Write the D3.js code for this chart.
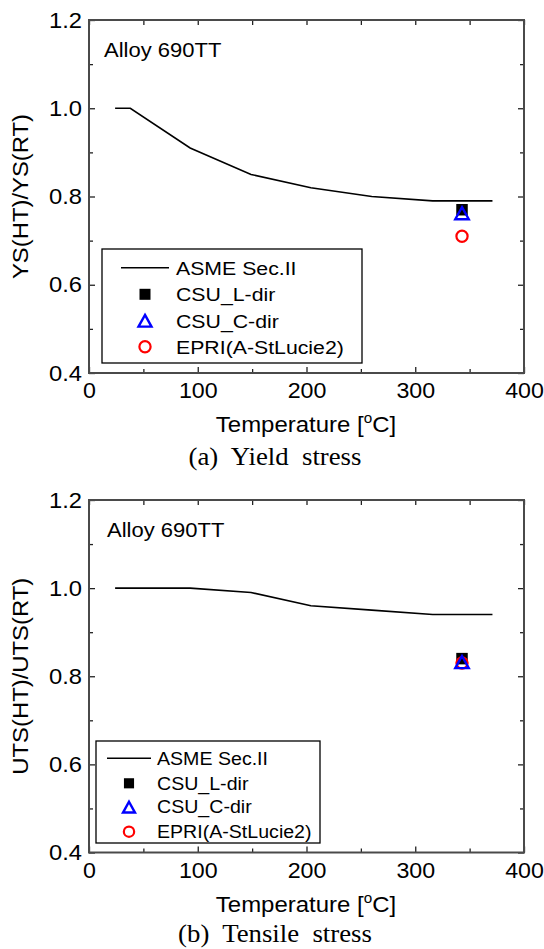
<!DOCTYPE html>
<html><head><meta charset="utf-8">
<script src="https://cdn.jsdelivr.net/npm/d3@7"></script>
<style>
html,body{margin:0;padding:0;background:#fff;}
svg{display:block;}
text{font-family:"Liberation Sans",Arial,sans-serif;fill:#000;}
.serif{font-family:"Liberation Serif","Times New Roman",serif;}
</style></head>
<body>
<svg id="c" width="544" height="949"></svg>
<script>
// ---- data ----
const xTickValues = [0, 100, 200, 300, 400];
const xMinorValues = [50, 150, 250, 350];
const yTickValues = [0.4, 0.6, 0.8, 1.0, 1.2];
const yMinorValues = [0.5, 0.7, 0.9, 1.1];
const asmeTemp = [24, 38, 93, 149, 204, 260, 316, 371];
const ysAsme = [1.0, 1.0, 0.91, 0.85, 0.82, 0.80, 0.79, 0.79];
const utsAsme = [1.0, 1.0, 1.0, 0.99, 0.96, 0.95, 0.94, 0.94];
const testTemp = [343];
const ysCsuL = [0.77];
const ysCsuC = [0.76];
const ysEpri = [0.71];
const utsCsuL = [0.84];
const utsCsuC = [0.83];
const utsEpri = [0.83];
const legendLabels = ["ASME Sec.II", "CSU_L-dir", "CSU_C-dir", "EPRI(A-StLucie2)"];

const svg = d3.select("#c");
const SX = 1.08; // horizontal stretch of tick text in the reference

function txt(g, x, y, s, size, anchor, sx, cls) {
  const t = g.append("text")
    .attr("transform", `translate(${x},${y}) scale(${sx||SX},1)`)
    .attr("font-size", size)
    .attr("text-anchor", anchor || "start")
    .text(s);
  if (cls) t.attr("class", cls);
  return t;
}

function panel(cfg) {
  const g = svg.append("g");
  const x = d3.scaleLinear().domain([0, 400]).range([89, 524]);
  const y = d3.scaleLinear().domain([0.4, 1.2]).range([cfg.bottom, cfg.top]);

  const styleAxis = (sel) => {
    sel.select(".domain").remove();
    sel.selectAll(".tick line").attr("stroke", "#222").attr("stroke-width", 1.3);
  };
  const bx = g.append("g").attr("transform", `translate(0,${cfg.bottom})`)
    .call(d3.axisBottom(x).tickValues(xTickValues).tickSizeInner(-6).tickSizeOuter(0).tickFormat(d3.format("d")));
  styleAxis(bx);
  bx.selectAll(".tick text").attr("font-size", 21.5).attr("font-family", "Liberation Sans, Arial, sans-serif")
    .attr("fill", "#000").attr("dy", "0.71em").attr("y", 10).attr("x", 0)
    .attr("transform", `scale(${SX},1)`);
  const bxm = g.append("g").attr("transform", `translate(0,${cfg.bottom})`)
    .call(d3.axisBottom(x).tickValues(xMinorValues).tickSizeInner(-4).tickSizeOuter(0).tickFormat(""));
  styleAxis(bxm);
  const tx = g.append("g").attr("transform", `translate(0,${cfg.top})`)
    .call(d3.axisTop(x).tickValues(xTickValues.concat(xMinorValues)).tickSizeInner(-5).tickSizeOuter(0).tickFormat(""));
  styleAxis(tx);
  const ly = g.append("g").attr("transform", `translate(89,0)`)
    .call(d3.axisLeft(y).tickValues(yTickValues).tickSizeInner(-6).tickSizeOuter(0).tickFormat(d3.format(".1f")));
  styleAxis(ly);
  ly.selectAll(".tick text").attr("font-size", 22).attr("font-family", "Liberation Sans, Arial, sans-serif")
    .attr("fill", "#000").attr("x", -7/SX).attr("transform", `scale(${SX},1)`);
  const lym = g.append("g").attr("transform", `translate(89,0)`)
    .call(d3.axisLeft(y).tickValues(yMinorValues).tickSizeInner(-4).tickSizeOuter(0).tickFormat(""));
  styleAxis(lym);
  const ry = g.append("g").attr("transform", `translate(524,0)`)
    .call(d3.axisRight(y).tickValues(yTickValues.concat(yMinorValues)).tickSizeInner(-6).tickSizeOuter(0).tickFormat(""));
  styleAxis(ry);
  ry.selectAll(".tick").filter(d => yMinorValues.includes(d)).select("line").attr("x2", -4);

  // frame
  g.append("rect").attr("x", 89).attr("y", cfg.top).attr("width", 524 - 89).attr("height", cfg.bottom - cfg.top)
    .attr("fill", "none").attr("stroke", "#4a4a4a").attr("stroke-width", 2);

  // ASME line
  const line = d3.line().x((d, i) => x(asmeTemp[i])).y(d => y(d));
  g.append("path").datum(cfg.asme).attr("d", line).attr("fill", "none")
    .attr("stroke", "#000").attr("stroke-width", 1.6);

  // markers
  const drawSquare = (gg, cx, cy, s) => gg.append("rect").attr("x", cx - s/2).attr("y", cy - s/2)
    .attr("width", s).attr("height", s).attr("fill", "#000");
  const drawTri = (gg, cx, cy, s) => gg.append("path")
    .attr("d", `M${cx},${cy - s*0.52} L${cx + s*0.5},${cy + s*0.38} L${cx - s*0.5},${cy + s*0.38} Z`)
    .attr("fill", "none").attr("stroke", "#0000ff").attr("stroke-width", 2.4).attr("stroke-linejoin", "miter");
  const drawCirc = (gg, cx, cy, r) => gg.append("circle").attr("cx", cx).attr("cy", cy).attr("r", r)
    .attr("fill", "none").attr("stroke", "#ff0000").attr("stroke-width", 2.2);

  testTemp.forEach((t, i) => {
    drawSquare(g, x(t), y(cfg.csuL[i]), 11.5);
    drawCirc(g, x(t), y(cfg.epri[i]), 5.6);
    drawTri(g, x(t), y(cfg.csuC[i]), 13.5);
  });

  // Alloy label
  txt(g, cfg.alloyX, cfg.top + 37, "Alloy 690TT", 20, "start", 1.1);

  // y title
  g.append("text").attr("transform", `translate(28,${(cfg.top + cfg.bottom) / 2}) rotate(-90) scale(1.06,1)`)
    .attr("font-size", 22.5).attr("text-anchor", "middle").text(cfg.ytitle);

  // x title
  const xt = g.append("text").attr("transform", `translate(306,${cfg.bottom + 59}) scale(1.09,1)`)
    .attr("font-size", 22).attr("text-anchor", "middle");
  xt.append("tspan").text("Temperature [");
  xt.append("tspan").attr("font-size", 14).attr("dy", -9).text("o");
  xt.append("tspan").attr("dy", 9).text("C]");

  // caption
  g.append("text").attr("class", "serif").attr("transform", `translate(275,${cfg.capY}) scale(1.05,1)`)
    .attr("font-size", 25.5).attr("text-anchor", "middle").style("white-space", "pre")
    .text(cfg.caption);

  // legend
  const L = cfg.legend;
  const lg = g.append("g");
  lg.append("rect").attr("x", L.x0).attr("y", L.y0).attr("width", L.x1 - L.x0).attr("height", L.y1 - L.y0)
    .attr("fill", "#fff").attr("stroke", "#000").attr("stroke-width", 1.3);
  lg.append("line").attr("x1", L.lx0).attr("x2", L.lx1).attr("y1", L.rows[0]).attr("y2", L.rows[0])
    .attr("stroke", "#000").attr("stroke-width", 1.6);
  drawSquare(lg, L.sx, L.rows[1], L.ms * 11);
  drawTri(lg, L.sx, L.rows[2] + 1, L.ms * 13);
  drawCirc(lg, L.sx, L.rows[3], L.ms * 5.6);
  legendLabels.forEach((s, i) => {
    txt(lg, L.tx, L.rows[i] + L.fs * 0.36, s, L.fs, "start", L.sxs);
  });
}

panel({
  top: 20, bottom: 373, asme: ysAsme, csuL: ysCsuL, csuC: ysCsuC, epri: ysEpri,
  ytitle: "YS(HT)/YS(RT)", caption: "(a)  Yield  stress", capY: 465, alloyX: 104,
  legend: { x0: 102, x1: 362, y0: 249, y1: 363, rows: [267.7, 294.3, 320.7, 346.7],
            lx0: 121, lx1: 169, sx: 145, tx: 176, fs: 19, sxs: 1.12, ms: 1 }
});
panel({
  top: 500, bottom: 852.5, asme: utsAsme, csuL: utsCsuL, csuC: utsCsuC, epri: utsEpri,
  ytitle: "UTS(HT)/UTS(RT)", caption: "(b)  Tensile  stress", capY: 942, alloyX: 107,
  legend: { x0: 96, x1: 320, y0: 741, y1: 843, rows: [758.3, 783.3, 807, 831.7],
            lx0: 107, lx1: 151, sx: 129, tx: 157, fs: 17.5, sxs: 1.12, ms: 0.92 }
});
</script>
</body></html>
